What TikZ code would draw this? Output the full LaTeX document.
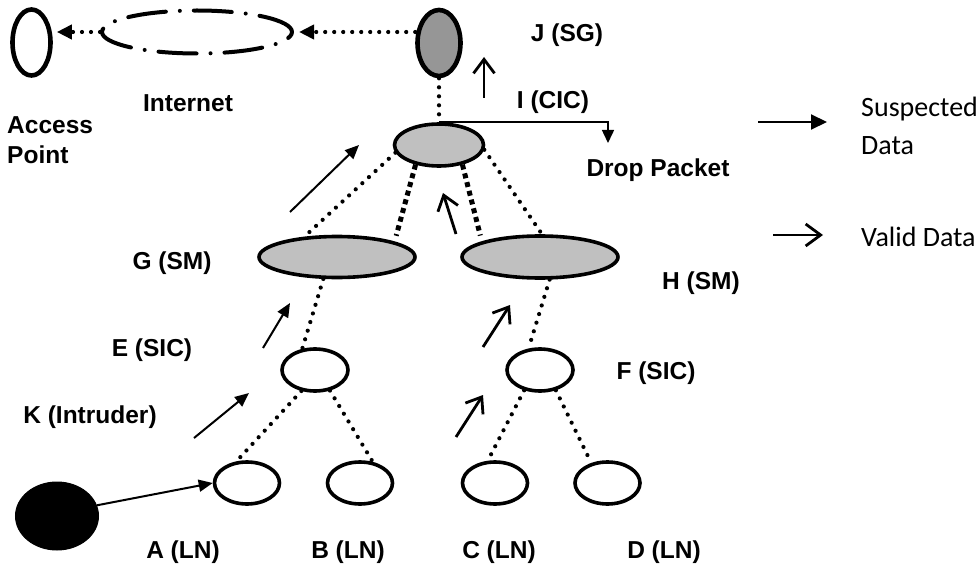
\documentclass[tikz,border=0pt]{standalone}
\usepackage{fontspec}
\setmainfont{Liberation Sans}
\newfontfamily\calfont{Carlito}
\usetikzlibrary{shapes.geometric,arrows.meta}
\definecolor{lgray}{HTML}{C0C0C0}
\definecolor{jgray}{HTML}{969696}
\begin{document}
\begin{tikzpicture}[x=1pt,y=-1pt,
  lbl/.style={font=\bfseries\fontsize{24.5}{30}\selectfont, inner sep=0pt},
  legtext/.style={font=\calfont\fontsize{28}{38}\selectfont, inner sep=0pt},
  oval/.style={ellipse, draw, line width=3.6pt, inner sep=0pt, fill=white},
  rdots/.style={line width=4.2pt, line cap=round, dash pattern=on 0pt off 9pt},
  sqdots/.style={line width=5pt, dash pattern=on 5pt off 4pt},
  dothead/.style={-{Triangle[length=15pt,width=14pt]}},
  susp/.style={line width=2pt, -{Triangle[length=14pt,width=12pt]}},
  valid/.style={line width=2.8pt, -{Straight Barb[length=14pt,width=21pt]}},
]
\useasboundingbox (0,0) rectangle (979,572);

% nodes
\node[oval, line width=4.6pt, minimum width=38pt, minimum height=66pt] (ap) at (31.5,42.5) {};
\node[ellipse, draw, inner sep=0pt, line width=4pt, line cap=round,
      dash pattern=on 38pt off 14pt on 0pt off 14pt,
      minimum width=190pt, minimum height=43pt] (inet) at (197,32) {};
\node[oval, line width=4.6pt, fill=jgray, minimum width=43pt, minimum height=66pt] (J) at (439,43) {};
\node[oval, fill=lgray, minimum width=89pt, minimum height=42pt] (I) at (439,145) {};
\node[oval, fill=lgray, minimum width=156pt, minimum height=41pt] (G) at (337,257) {};
\node[oval, fill=lgray, minimum width=156pt, minimum height=42pt] (H) at (540,257) {};
\node[oval, minimum width=66pt, minimum height=42pt] (E) at (315,370) {};
\node[oval, minimum width=66pt, minimum height=42pt] (F) at (540,370) {};
\node[oval, minimum width=65pt, minimum height=42pt] (A) at (247,483) {};
\node[oval, minimum width=65pt, minimum height=42pt] (B) at (360,483) {};
\node[oval, minimum width=65pt, minimum height=42pt] (C) at (495,483) {};
\node[oval, minimum width=65pt, minimum height=42pt] (D) at (607.5,483) {};
\node[ellipse, draw, fill=black, line width=1pt, inner sep=0pt, minimum width=83pt, minimum height=68pt] (K) at (57,516) {};

% labels
\node[lbl] (lJ) at (567,35) {J (SG)};
\node[lbl] (lI) at (553,102) {I (CIC)};
\node[lbl] (ldrop) at (658,170) {Drop Packet};
\node[lbl] (linet) at (188,103) {Internet};
\node[lbl, anchor=west, align=left] (lap) at (7,140) {Access\\Point};
\node[lbl] (lG) at (172,263) {G (SM)};
\node[lbl] (lH) at (701,283) {H (SM)};
\node[lbl] (lE) at (152,350) {E (SIC)};
\node[lbl] (lF) at (656,373) {F (SIC)};
\node[lbl] (lK) at (90,417) {K (Intruder)};
\node[lbl] (lA) at (183,552) {A (LN)};
\node[lbl] (lB) at (348,552) {B (LN)};
\node[lbl] (lC) at (499,552) {C (LN)};
\node[lbl] (lD) at (664,552) {D (LN)};
\node[legtext, anchor=west, align=left] (lsusp) at (861,126) {Suspected\\Data};
\node[legtext, anchor=west] (lvalid) at (861,237) {Valid Data};

% top dotted arrows
\draw[rdots, dothead, shorten >=5pt] (J.west |- inet.east) -- (inet.east);
\draw[rdots, dothead] (inet.west) -- ([xshift=4pt]ap.east |- inet.west);

% tree connectors
\draw[rdots] (J.south) -- (I.north);
\draw[rdots] (I.190) -- (G.148);
\draw[sqdots, shorten >=6pt] (I.220) -- (G.15);
\draw[sqdots, shorten >=6pt] (I.320) -- (H.165);
\draw[rdots] (I.354) -- (H.85);
\draw[rdots] (G.238) -- (E.121);
\draw[rdots] (H.293) -- (F.118);
\draw[rdots] (E.237) -- (A.116);
\draw[rdots] (E.306) -- (B.59);
\draw[rdots, shorten >=5pt] (F.232) -- (C.108);
\draw[rdots, shorten >=5pt] (F.308) -- (D.129);

% drop packet
\coordinate (dropc) at (608,143);
\draw[line width=1.5pt, -{Triangle[length=13pt,width=12pt]}] (I.north) -| (dropc);

% intruder
\draw[susp] (K.15) -- (A.west);

% suspected data arrows
\coordinate (s1a) at (290,212); \coordinate (s1b) at (359,145);
\coordinate (s2a) at (263,348); \coordinate (s2b) at (290,303);
\coordinate (s3a) at (194,438); \coordinate (s3b) at (249,393);
\draw[susp] (s1a) -- (s1b);
\draw[susp] (s2a) -- (s2b);
\draw[susp] (s3a) -- (s3b);

% valid data arrows
\coordinate (v1a) at (484,98);  \coordinate (v1b) at (484,57);
\coordinate (v2a) at (456,234); \coordinate (v2b) at (443,193);
\coordinate (v3a) at (483,347); \coordinate (v3b) at (510,305);
\coordinate (v4a) at (456,437); \coordinate (v4b) at (483,395);
\draw[valid] (v1a) -- (v1b);
\draw[valid] (v2a) -- (v2b);
\draw[valid] (v3a) -- (v3b);
\draw[valid] (v4a) -- (v4b);

% legend
\coordinate (ls1) at (758,122); \coordinate (ls2) at (827,122);
\coordinate (lv1) at (773,235); \coordinate (lv2) at (823,235);
\draw[line width=2pt, -{Triangle[length=16pt,width=15pt]}] (ls1) -- (ls2);
\draw[line width=2.8pt, -{Straight Barb[length=15pt,width=22pt]}] (lv1) -- (lv2);
\end{tikzpicture}
\end{document}
